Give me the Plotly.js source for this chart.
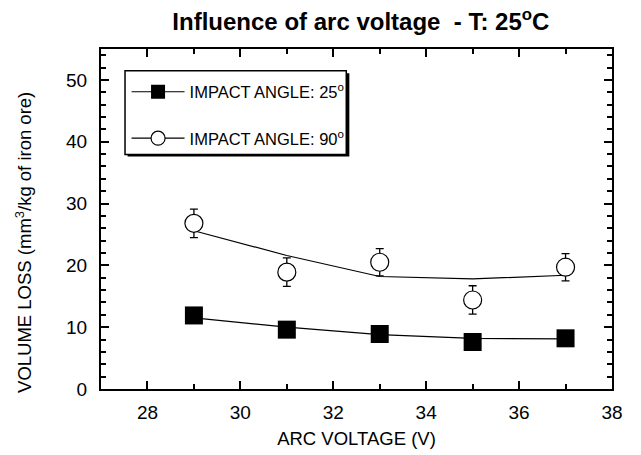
<!DOCTYPE html>
<html><head><meta charset="utf-8">
<script src="https://cdn.plot.ly/plotly-3.0.1.min.js"></script>
<style>html,body{margin:0;padding:0;background:#fff}</style>
</head><body>
<div id="chart" style="width:641px;height:455px"></div>
<script>
// Data
const voltage = [29, 31, 33, 35, 37];
const loss25 = [11.9, 9.6, 8.9, 7.6, 8.2];
const fit25 = [11.5, 10.0, 8.8, 8.2, 8.1];
const loss90 = [26.8, 18.9, 20.5, 14.4, 19.7];
const err90 = [2.3, 2.3, 2.2, 2.3, 2.2];
const fit90 = [25.6, 21.6, 18.2, 17.8, 18.4];
const seriesNames = ["IMPACT ANGLE: 25<sup>o</sup>", "IMPACT ANGLE: 90<sup>o</sup>"];
const yTitle = "VOLUME LOSS (mm<sup>3</sup>/kg of iron ore)";
const xTitle = "ARC VOLTAGE (V)";
const chartTitle = "<b>Influence of arc voltage \u00a0- T: 25<sup>o</sup>C</b>";

const FONT = "Liberation Sans, Arial, Helvetica, sans-serif";

const traces = [
  {x: voltage, y: fit25, mode: "lines", line: {color: "black", width: 1.2}, showlegend: false, hoverinfo: "skip"},
  {x: voltage, y: fit90, mode: "lines", line: {color: "black", width: 1.2}, showlegend: false, hoverinfo: "skip"},
  {x: voltage, y: loss90, mode: "markers", showlegend: false,
   error_y: {type: "data", array: err90, visible: true, color: "black", thickness: 1.3, width: 4},
   marker: {symbol: "circle", size: 18, color: "white", line: {color: "black", width: 1.2}}},
  {x: voltage, y: loss25, mode: "markers", showlegend: false,
   marker: {symbol: "square", size: 18, color: "black", line: {color: "black", width: 0}}},
  // legend entries
  {x: [null], y: [null], mode: "lines+markers", name: seriesNames[0], legendgroup: "a",
   line: {color: "black", width: 1.2}, marker: {symbol: "square", size: 14, color: "black"}},
  {x: [null], y: [null], mode: "lines+markers", name: seriesNames[1], legendgroup: "b",
   line: {color: "black", width: 1.2}, marker: {symbol: "circle", size: 14, color: "white", line: {color: "black", width: 1.2}}}
];

const axisCommon = {
  showline: true, linecolor: "black", linewidth: 2, mirror: "ticks",
  ticks: "inside", ticklen: 8, tickwidth: 2, tickcolor: "black",
  showgrid: false, zeroline: false,
  tickfont: {family: FONT, size: 19, color: "black"}
};

const layout = {
  width: 641, height: 455,
  margin: {l: 101, r: 29, t: 49, b: 66},
  paper_bgcolor: "white", plot_bgcolor: "white",
  font: {family: FONT, color: "black"},
  title: {text: chartTitle, font: {family: FONT, size: 24, color: "black"},
          x: 0.563, xanchor: "center", y: 0.952, yanchor: "middle"},
  xaxis: Object.assign({}, axisCommon, {
    range: [27, 38], tick0: 28, dtick: 2, ticklabelstandoff: 5,
    minor: {dtick: 1, ticks: "inside", ticklen: 5, tickwidth: 2, tickcolor: "black"},
    title: {text: xTitle, font: {family: FONT, size: 18.5, color: "black"}, standoff: 10}
  }),
  yaxis: Object.assign({}, axisCommon, {
    range: [0, 55], tick0: 0, dtick: 10, ticklabelstandoff: 8,
    minor: {dtick: 2, ticks: "inside", ticklen: 5, tickwidth: 2, tickcolor: "black"}
  }),
  annotations: [
    {text: yTitle, xref: "paper", yref: "paper", x: -0.151, y: 0.432, xanchor: "center", yanchor: "middle",
     textangle: -90, showarrow: false, font: {family: FONT, size: 18.5, color: "black"}}
  ],
  legend: {x: 0.05, y: 0.925, xanchor: "left", yanchor: "top", bgcolor: "rgba(0,0,0,0)", borderwidth: 0,
           font: {family: FONT, size: 16.5, color: "black"}, traceorder: "grouped", tracegroupgap: 22, itemwidth: 53},
  shapes: [
    {type: "rect", xref: "paper", yref: "paper", x0: 0.052, x1: 0.486, y0: 0.684, y1: 0.929,
     fillcolor: "black", line: {width: 0}, layer: "above"},
    {type: "rect", xref: "paper", yref: "paper", x0: 0.047, x1: 0.48, y0: 0.69, y1: 0.936,
     fillcolor: "white", line: {color: "black", width: 1.5}, layer: "above"}
  ]
};

Plotly.newPlot("chart", traces, layout, {displayModeBar: false, staticPlot: true});
</script>
</body></html>
